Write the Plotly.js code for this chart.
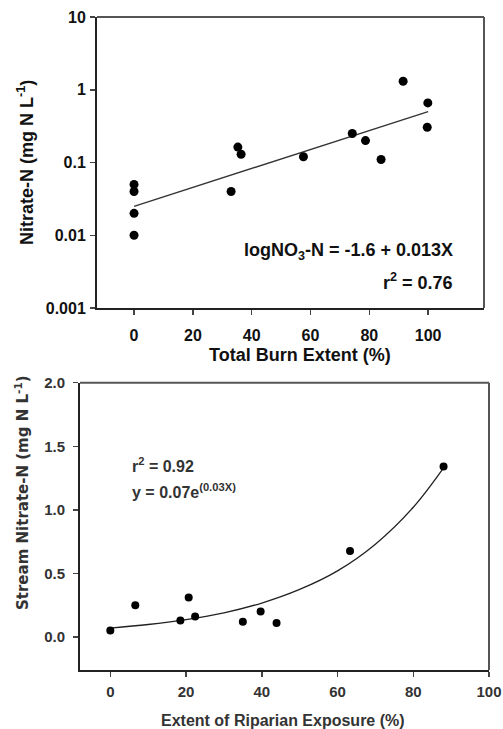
<!DOCTYPE html>
<html>
<head>
<meta charset="utf-8">
<script src="https://cdn.plot.ly/plotly-3.0.1.min.js"></script>
<style>html,body{margin:0;padding:0;background:#fff;}#chart{width:503px;height:729px;}</style>
</head>
<body>
<div id="chart"></div>
<script>
// Top panel: Total burn extent vs nitrate (log scale)
var burnX = [0, 0, 0, 0, 33, 35.3, 36.4, 57.6, 74.2, 78.7, 84, 91.5, 99.9, 99.7];
var burnNitrate = [0.05, 0.04, 0.02, 0.01, 0.04, 0.163, 0.13, 0.12, 0.25, 0.2, 0.11, 1.31, 0.66, 0.305];
var burnFitX = [0, 100];
var burnFitY = [0.025, 0.5];
var burnTickVals = [0.001, 0.01, 0.1, 1, 10];
var burnTickText = ["0.001", "0.01", "0.1", "1", "10"];
var xTicks = [0, 20, 40, 60, 80, 100];

// Bottom panel: riparian exposure vs stream nitrate
var ripX = [0, 6.6, 18.5, 20.7, 22.4, 35, 39.7, 43.9, 63.3, 88];
var ripNitrate = [0.05, 0.25, 0.13, 0.31, 0.16, 0.12, 0.2, 0.11, 0.676, 1.34];
var ripFitX = [0, 10, 20, 30, 40, 50, 60, 70, 80, 88];
var ripFitY = [0.07, 0.098, 0.137, 0.19, 0.267, 0.374, 0.52, 0.73, 1.02, 1.33];
var ripTickVals = [0, 0.5, 1.0, 1.5, 2.0];

var FONT = "Liberation Sans, Arial, sans-serif";
var W = 503, H = 729;
function px(x){return x / W;}
function py(y){return 1 - y / H;}

var traces = [
  {x: burnFitX, y: burnFitY, mode: 'lines', type: 'scatter', xaxis: 'x', yaxis: 'y',
   line: {color: '#333', width: 1.3}, hoverinfo: 'skip', showlegend: false},
  {x: burnX, y: burnNitrate, mode: 'markers', type: 'scatter', xaxis: 'x', yaxis: 'y',
   marker: {color: '#000', size: 9}, showlegend: false},
  {x: ripFitX, y: ripFitY, mode: 'lines', type: 'scatter', xaxis: 'x2', yaxis: 'y2',
   line: {color: '#222', width: 1.3, shape: 'spline'}, hoverinfo: 'skip', showlegend: false},
  {x: ripX, y: ripNitrate, mode: 'markers', type: 'scatter', xaxis: 'x2', yaxis: 'y2',
   marker: {color: '#000', size: 8}, showlegend: false}
];

var axCommon = {
  showgrid: false, zeroline: false, showline: true, linecolor: '#222', linewidth: 2,
  mirror: false, ticks: 'outside', ticklen: 5, tickwidth: 1.5, tickcolor: '#444',
  automargin: false
};

var frameLine = {color: '#555', width: 2};

var layout = {
  width: W, height: H,
  margin: {l: 0, r: 0, t: 0, b: 0},
  paper_bgcolor: '#fff', plot_bgcolor: '#fff',
  showlegend: false,
  font: {family: FONT, color: '#111'},
  xaxis: Object.assign({}, axCommon, {
    domain: [px(97), px(484)], range: [-12.6, 119], anchor: 'y',
    tickvals: xTicks, ticklabelstandoff: 7,
    tickfont: {family: FONT, size: 16, weight: 'bold', color: '#111'}
  }),
  yaxis: Object.assign({}, axCommon, {
    domain: [py(308), py(17)], type: 'log', range: [-3, 1], anchor: 'x',
    tickvals: burnTickVals, ticktext: burnTickText, ticklabelstandoff: 1,
    tickfont: {family: FONT, size: 16, weight: 'bold', color: '#111'}
  }),
  xaxis2: Object.assign({}, axCommon, {
    domain: [px(80), px(489)], range: [-8, 100], anchor: 'y2',
    tickvals: xTicks, ticklabelstandoff: 2,
    tickfont: {family: FONT, size: 15, weight: 'bold', color: '#333'}
  }),
  yaxis2: Object.assign({}, axCommon, {
    domain: [py(670), py(382.7)], range: [-0.26, 2.0], anchor: 'x2',
    tickvals: ripTickVals, tickformat: '.1f', ticklabelstandoff: 5,
    tickfont: {family: FONT, size: 15, weight: 'bold', color: '#333'}
  }),
  shapes: [
    {type: 'line', xref: 'x domain', yref: 'y domain', x0: 0, x1: 1, y0: 1, y1: 1, line: frameLine},
    {type: 'line', xref: 'x domain', yref: 'y domain', x0: 1, x1: 1, y0: 0, y1: 1, line: frameLine},
    {type: 'line', xref: 'x2 domain', yref: 'y2 domain', x0: 0, x1: 1, y0: 1, y1: 1, line: frameLine},
    {type: 'line', xref: 'x2 domain', yref: 'y2 domain', x0: 1, x1: 1, y0: 0, y1: 1, line: frameLine}
  ],
  annotations: [
    {text: 'logNO<sub>3</sub>-N = -1.6 + 0.013X', xref: 'paper', yref: 'paper',
     x: px(455), y: py(251), xanchor: 'right', yanchor: 'middle', showarrow: false,
     font: {family: FONT, size: 18, weight: 'bold', color: '#111'}},
    {text: 'r<sup>2</sup> = 0.76', xref: 'paper', yref: 'paper',
     x: px(455), y: py(281), xanchor: 'right', yanchor: 'middle', showarrow: false,
     font: {family: FONT, size: 18, weight: 'bold', color: '#111'}},
    {text: 'Total Burn Extent (%)', xref: 'paper', yref: 'paper',
     x: px(300), y: py(355), xanchor: 'center', yanchor: 'middle', showarrow: false,
     font: {family: FONT, size: 18, weight: 'bold', color: '#111'}},
    {text: 'Nitrate-N (mg N L<sup>-1</sup>)', xref: 'paper', yref: 'paper',
     x: px(25), y: py(163), xanchor: 'center', yanchor: 'middle', showarrow: false, textangle: -90,
     font: {family: FONT, size: 18, weight: 'bold', color: '#111'}},
    {text: 'r<sup>2</sup> = 0.92', xref: 'paper', yref: 'paper',
     x: px(130), y: py(465), xanchor: 'left', yanchor: 'middle', showarrow: false,
     font: {family: FONT, size: 16, weight: 'bold', color: '#333'}},
    {text: 'y = 0.07e<sup>(0.03X)</sup>', xref: 'paper', yref: 'paper',
     x: px(130), y: py(491), xanchor: 'left', yanchor: 'middle', showarrow: false,
     font: {family: FONT, size: 16, weight: 'bold', color: '#333'}},
    {text: 'Extent of Riparian Exposure (%)', xref: 'paper', yref: 'paper',
     x: px(282.5), y: py(720), xanchor: 'center', yanchor: 'middle', showarrow: false,
     font: {family: FONT, size: 16, weight: 'bold', color: '#333'}},
    {text: 'Stream Nitrate-N (mg N L<sup>-1</sup>)', xref: 'paper', yref: 'paper',
     x: px(22), y: py(493), xanchor: 'center', yanchor: 'middle', showarrow: false, textangle: -90,
     font: {family: "DejaVu Sans, sans-serif", size: 15, weight: 'bold', color: '#333'}}
  ]
};

Plotly.newPlot('chart', traces, layout, {staticPlot: true, displayModeBar: false});
</script>
</body>
</html>
